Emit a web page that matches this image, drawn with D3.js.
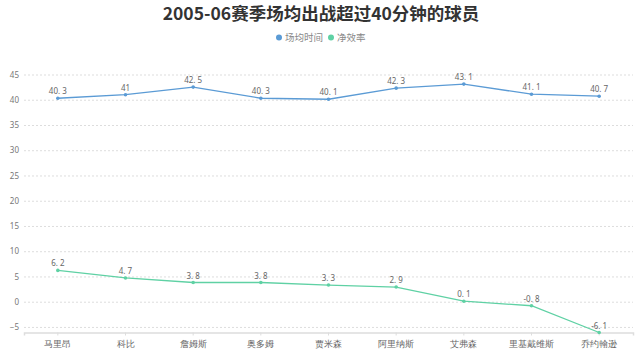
<!DOCTYPE html>
<html>
<head>
<meta charset="utf-8">
<script src="https://cdn.jsdelivr.net/npm/d3@7"></script>
<style>
  body { margin: 0; background: #fff; }
  svg { font-family: "Noto Sans CJK SC", "Noto Sans", sans-serif; }
</style>
</head>
<body>
<div id="chart"></div>
<script>
var players = ['马里昂', '科比', '詹姆斯', '奥多姆', '贾米森', '阿里纳斯', '艾弗森', '里基戴维斯', '乔约翰逊'];
var minutes = [40.3, 41, 42.5, 40.3, 40.1, 42.3, 43.1, 41.1, 40.7];
var netEff = [6.2, 4.7, 3.8, 3.8, 3.3, 2.9, 0.1, -0.8, -6.1];
var yTicks = [-5, 0, 5, 10, 15, 20, 25, 30, 35, 40, 45];
var seriesNames = ['场均时间', '净效率'];

var width = 640, height = 361;
var color = d3.scaleOrdinal().domain(seriesNames).range(['#5b9bd5', '#5fd1a4']);

var svg = d3.select('#chart').append('svg')
  .attr('width', width)
  .attr('height', height);

var x = d3.scaleBand()
  .domain(players)
  .range([24, 633]);

var y = d3.scaleLinear()
  .domain([d3.min(netEff), 45])
  .range([332.5, 74.5]);

function cx(d) { return x(d) + x.bandwidth() / 2; }

// title
svg.append('text')
  .attr('x', 321)
  .attr('y', 19.5)
  .attr('text-anchor', 'middle')
  .style('font-size', '17.5px')
  .style('font-weight', 'bold')
  .style('fill', '#333')
  .text('2005-06赛季场均出战超过40分钟的球员');

// legend
var legend = svg.append('g').attr('class', 'legend');
var legendX = [279, 331];
seriesNames.forEach(function(name, i) {
  legend.append('circle')
    .attr('cx', legendX[i])
    .attr('cy', 37.5)
    .attr('r', 3)
    .style('fill', color(name));
  legend.append('text')
    .attr('x', legendX[i] + 6)
    .attr('y', 41)
    .style('font-size', '9.5px')
    .style('fill', '#888')
    .text(name);
});

// gridlines + y labels
var yAxis = svg.append('g')
  .attr('transform', 'translate(24,0)')
  .call(d3.axisLeft(y).tickValues(yTicks).tickSize(-609).tickPadding(5));
yAxis.select('.domain').remove();
yAxis.selectAll('.tick line')
  .attr('stroke', '#ddd')
  .attr('stroke-dasharray', '2,2');
yAxis.selectAll('.tick text')
  .style('font-size', '8px')
  .style('fill', '#777')
  .style('font-family', '"Noto Sans", sans-serif');

// x axis
var xAxis = svg.append('g')
  .attr('transform', 'translate(0,' + y(d3.min(netEff)) + ')')
  .call(d3.axisBottom(x).tickSize(3).tickPadding(5));
xAxis.select('.domain')
  .attr('stroke', '#ddd')
  .attr('stroke-width', 1.5);
xAxis.selectAll('.tick line').attr('stroke', '#ddd');
xAxis.selectAll('.tick text')
  .style('font-size', '9px')
  .style('fill', '#666');

// series
var series = [
  {name: seriesNames[0], values: minutes},
  {name: seriesNames[1], values: netEff}
];

var line = d3.line()
  .x(function(d, i) { return cx(players[i]); })
  .y(function(d) { return y(d); });

function fmt(v) { return String(v).replace('.', '. '); }

series.forEach(function(s) {
  var g = svg.append('g').attr('class', 'series');
  g.append('path')
    .datum(s.values)
    .attr('d', line)
    .attr('fill', 'none')
    .attr('stroke', color(s.name))
    .attr('stroke-width', 1.3);
  g.selectAll('circle')
    .data(s.values)
    .enter().append('circle')
    .attr('cx', function(d, i) { return cx(players[i]); })
    .attr('cy', function(d) { return y(d); })
    .attr('r', 1.8)
    .style('fill', color(s.name));
  g.selectAll('text')
    .data(s.values)
    .enter().append('text')
    .attr('x', function(d, i) { return cx(players[i]); })
    .attr('y', function(d) { return y(d) - 4; })
    .attr('text-anchor', 'middle')
    .style('font-size', '8px')
    .style('fill', '#666')
    .style('font-family', '"Noto Sans", sans-serif')
    .text(function(d) { return fmt(d); });
});
</script>
</body>
</html>
